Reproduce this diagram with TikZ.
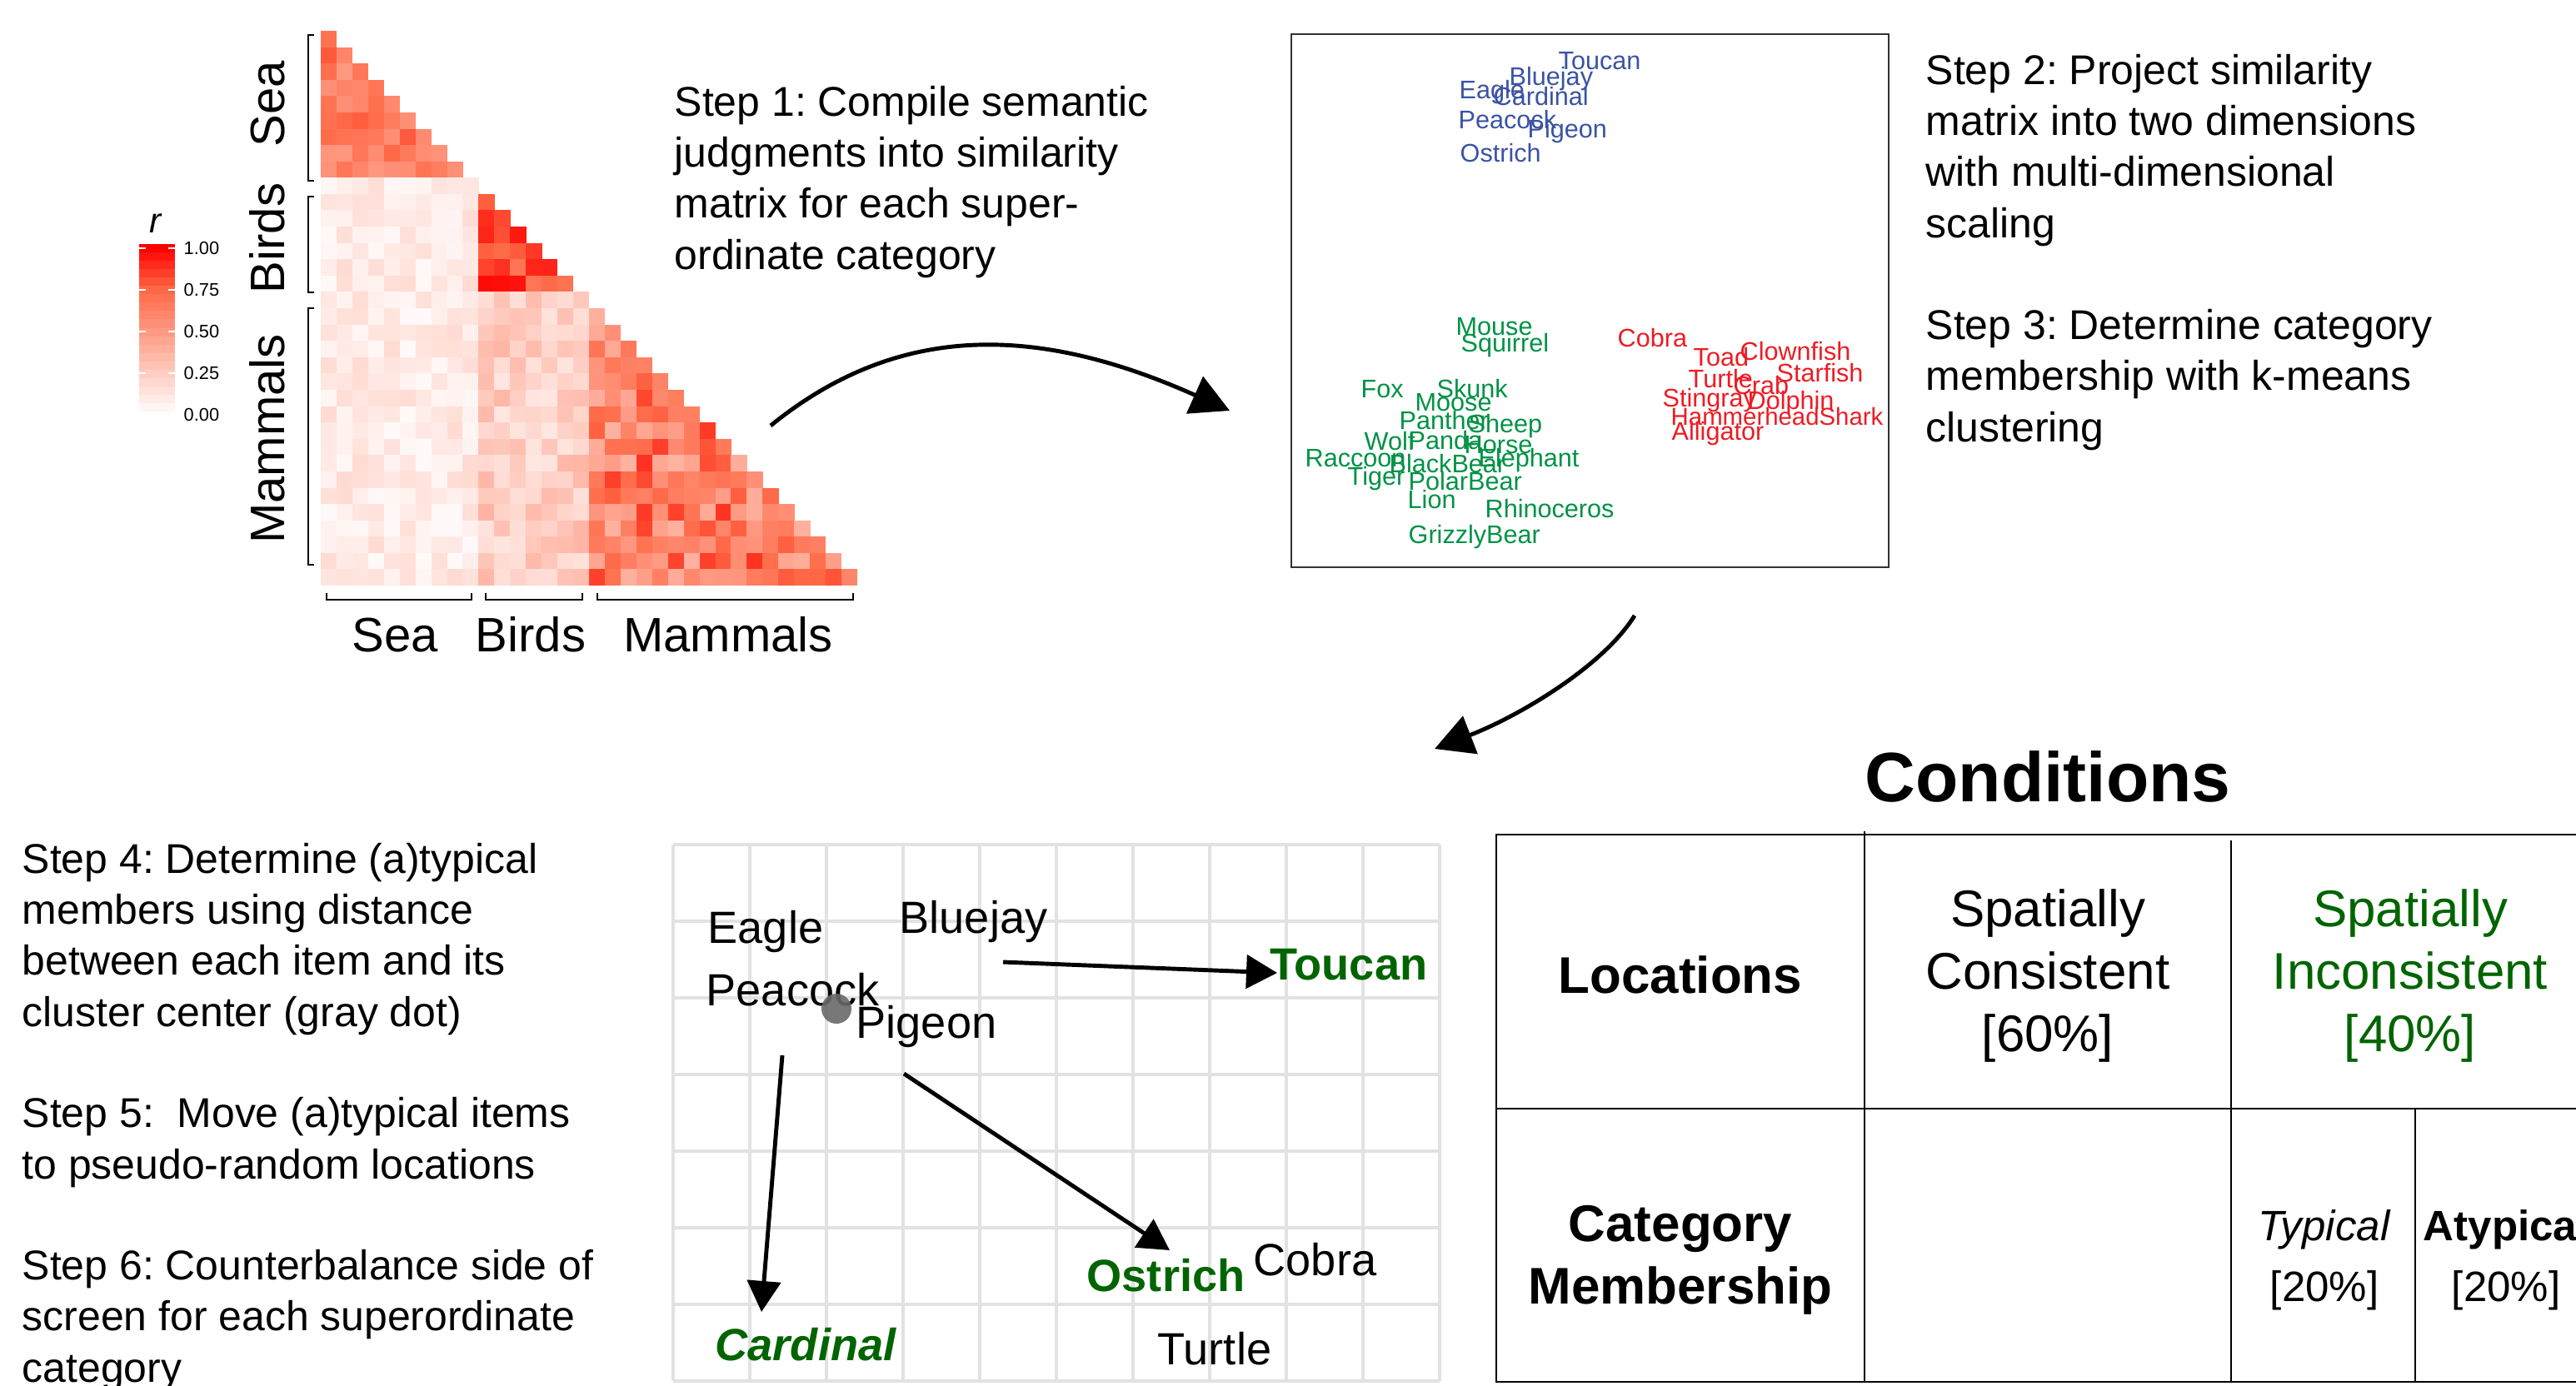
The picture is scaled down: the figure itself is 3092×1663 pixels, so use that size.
\documentclass[tikz,border=0pt]{standalone}
\usepackage{fontspec}
\setmainfont{Liberation Sans}
\usetikzlibrary{arrows.meta}
\frenchspacing

\definecolor{mdsblue}{RGB}{58,83,164}
\definecolor{mdsgreen}{RGB}{0,146,69}
\definecolor{mdsred}{RGB}{237,28,36}
\definecolor{movegreen}{RGB}{0,100,0}
\definecolor{gridgray}{RGB}{226,226,226}
\definecolor{dotgray}{RGB}{105,105,105}

\tikzset{
  steptext/.style={anchor=base west, inner sep=0pt, align=left, font=\fontsize{14.2}{17.4}\selectfont},
  axislbl/.style={anchor=base, inner sep=0pt, font=\fontsize{16.5}{19}\selectfont},
  keylbl/.style={anchor=west, inner sep=0pt, font=\fontsize{6.2}{7}\selectfont},
  mdsb/.style={anchor=base west, inner sep=0pt, text=mdsblue, font=\fontsize{8.7}{10}\selectfont},
  mdsg/.style={mdsb, text=mdsgreen},
  mdsr/.style={mdsb, text=mdsred},
  item/.style={anchor=base west, inner sep=0pt, font=\fontsize{15.4}{18}\selectfont},
  moved/.style={item, text=movegreen, font=\fontsize{15.4}{18}\selectfont\bfseries},
  bracket/.style={line width=0.65pt},
  bigarrow/.style={line width=1.4pt, -{Triangle[length=0.46cm, width=0.48cm]}},
  movearrow/.style={line width=1.4pt, -{Triangle[length=0.37cm, width=0.40cm]}},
  gridline/.style={draw=gridgray, line width=1.4pt},
  tableline/.style={line width=0.8pt},
  rowhead/.style={anchor=base, inner sep=0pt, align=center, font=\fontsize{17.6}{21.3}\selectfont\bfseries},
  cellhead/.style={anchor=base, inner sep=0pt, align=center, font=\fontsize{17.6}{21.3}\selectfont},
  cellsmall/.style={anchor=base, inner sep=0pt, align=center, font=\fontsize{14.5}{20.6}\selectfont}
}

\begin{document}
\begin{tikzpicture}[x=0.01cm, y=-0.01cm]
  \useasboundingbox (0,0) rectangle (3092,1663);

  % similarity matrix (lower triangle)
  \pgfmathsetseed{11}
  \foreach \i in {1,...,34}{
    \pgfmathtruncatemacro\jmax{\i-1}
    \pgfmathtruncatemacro\bi{(\i>9)+(\i>16)}
    \foreach \j in {0,...,\jmax}{
      \pgfmathtruncatemacro\bj{(\j>9)+(\j>16)}
      \pgfmathtruncatemacro\bsum{\bi+\bj}
      \ifnum\bi=\bj
        \ifcase\bi \def\lo{0.5}\def\rg{0.3}\or \def\lo{0.68}\def\rg{0.3}\or \def\lo{0.38}\def\rg{0.5}\fi
      \else
        \ifcase\bsum \or \def\lo{0.03}\def\rg{0.15}\or \def\lo{0.02}\def\rg{0.16}\or \def\lo{0.12}\def\rg{0.25}\fi
      \fi
      \pgfmathsetmacro\val{\lo+\rg*rnd}
      \pgfmathtruncatemacro\gch{\val<0.75 ? 255-201*\val : 416*(1-\val)}
      \pgfmathtruncatemacro\bch{\val<0.75 ? 255-247*\val : 280*(1-\val)}
      \definecolor{cellc}{RGB}{255,\gch,\bch}
      \fill[cellc] (385+\j*18.94,17.4+\i*19.59) rectangle ++(19.3,19.95);
    }
  }

  % colour key
  \foreach \k in {0,...,19}{
    \pgfmathsetmacro\val{1-0.05025*\k}
    \pgfmathtruncatemacro\gch{\val<0.75 ? 255-201*\val : 416*(1-\val)}
    \pgfmathtruncatemacro\bch{\val<0.75 ? 255-247*\val : 280*(1-\val)}
    \definecolor{cellc}{RGB}{255,\gch,\bch}
    \fill[cellc] (167,293+\k*10.05) rectangle ++(43,10.4);
  }
  \foreach \y in {298,348,398,448}
    \draw[white, line width=0.3pt] (167,\y) -- (175,\y) (202,\y) -- (210,\y);
  \node[anchor=base, inner sep=0pt, font=\fontsize{12}{14}\selectfont\itshape] (rkey) at (187,279) {r};
  \foreach \t/\lab in {0/0.00, 1/0.25, 2/0.50, 3/0.75, 4/1.00}
    \node[keylbl] (k\t) at (220,498-\t*50) {\lab};

  % brackets and axis labels
  \foreach \a/\b in {42/217, 236/351, 370/678}
    \draw[bracket] (377,\a) -- (370,\a) -- (370,\b) -- (377,\b);
  \foreach \a/\b in {392/566, 583/699, 717/1024}
    \draw[bracket] (\a,712) -- (\a,720) -- (\b,720) -- (\b,712);
  \node[axislbl, rotate=90] (ysea) at (341,125) {Sea};
  \node[axislbl, rotate=90] (ybird) at (341,286) {Birds};
  \node[axislbl, rotate=90] (ymam) at (341,527) {Mammals};
  \node[axislbl] (xsea) at (474,782) {Sea};
  \node[axislbl] (xbird) at (637,782) {Birds};
  \node[axislbl] (xmam) at (874,782) {Mammals};

  % steps (placed at the baseline of their last line)
  \node[steptext] (s1) at (809,323) {Step 1: Compile semantic\\judgments into similarity\\matrix for each super-\\ordinate category};
  \node[steptext] (s2) at (2311,285) {Step 2: Project similarity\\matrix into two dimensions\\with multi-dimensional\\scaling};
  \node[steptext] (s3) at (2311,530) {Step 3: Determine category\\membership with k-means\\clustering};
  \node[steptext] (s4) at (26,1232) {Step 4: Determine (a)typical\\members using distance\\between each item and its\\cluster center (gray dot)};
  \node[steptext] (s5) at (26,1415) {Step 5:~ Move (a)typical items\\to pseudo-random locations};
  \node[steptext] (s6) at (26,1659) {Step 6: Counterbalance side of\\screen for each superordinate\\category};

  % MDS plot
  \draw[draw=black!80, line width=0.6pt] (1550,41) rectangle (2267,681);
  \node[mdsb] (mtou) at (1870,83) {Toucan};
  \node[mdsb] (mblu) at (1811,102) {Bluejay};
  \node[mdsb] (meag) at (1751,118) {Eagle};
  \node[mdsb] (mcar) at (1792,126) {Cardinal};
  \node[mdsb] (mpea) at (1750,154) {Peacock};
  \node[mdsb] (mpig) at (1833,165) {Pigeon};
  \node[mdsb] (most) at (1752,194) {Ostrich};
  \node[mdsg] (mmou) at (1747,402) {Mouse};
  \node[mdsg] (msqu) at (1753,422) {Squirrel};
  \node[mdsg] (mfox) at (1633,477) {Fox};
  \node[mdsg] (msku) at (1724,477) {Skunk};
  \node[mdsg] (mmoo) at (1698,493) {Moose};
  \node[mdsg] (mpan) at (1679,515) {Panther};
  \node[mdsg] (mshe) at (1762,519) {Sheep};
  \node[mdsg] (mwol) at (1637,540) {Wolf};
  \node[mdsg] (mpnd) at (1690,539) {Panda};
  \node[mdsg] (mhor) at (1757,544) {Horse};
  \node[mdsg] (mrac) at (1566,560) {Raccoon};
  \node[mdsg] (mbla) at (1667,567) {BlackBear};
  \node[mdsg] (mele) at (1774,560) {Elephant};
  \node[mdsg] (mtig) at (1617,582) {Tiger};
  \node[mdsg] (mpol) at (1690,588) {PolarBear};
  \node[mdsg] (mlio) at (1689,610) {Lion};
  \node[mdsg] (mrhi) at (1782,621) {Rhinoceros};
  \node[mdsg] (mgri) at (1690,652) {GrizzlyBear};
  \node[mdsr] (mcob) at (1941,416) {Cobra};
  \node[mdsr] (mtoa) at (2032,439) {Toad};
  \node[mdsr] (mclo) at (2088,432) {Clownfish};
  \node[mdsr] (mtur) at (2026,465) {Turtle};
  \node[mdsr] (msta) at (2132,458) {Starfish};
  \node[mdsr] (mcra) at (2080,473) {Crab};
  \node[mdsr] (msti) at (1995,488) {Stingray};
  \node[mdsr] (mdol) at (2097,491) {Dolphin};
  \node[mdsr, font=\fontsize{8.35}{10}\selectfont] (mham) at (2005,510) {HammerheadShark};
  \node[mdsr] (mall) at (2006,528) {Alligator};

  % curved arrows between panels
  \coordinate (a1s) at (925,511);
  \coordinate (a1e) at (1476,493);
  \draw[bigarrow] (a1s) .. controls (1080,385) and (1248,391) .. (a1e);
  \coordinate (a2s) at (1962,739);
  \coordinate (a2e) at (1722,899);
  \draw[bigarrow] (a2s) .. controls (1925,799) and (1825,859) .. (a2e);

  % screen grid
  \foreach \c in {0,...,10}
    \draw[gridline] (808+\c*92,1014) -- (808+\c*92,1658);
  \foreach \r in {0,...,7}
    \draw[gridline] (808,1014+\r*92) -- (1728,1014+\r*92);

  \node[item] (eag) at (849,1132) {Eagle};
  \node[item] (blu) at (1079,1120) {Bluejay};
  \node[item] (pea) at (847,1207) {Peacock};
  \node[item] (pig) at (1027,1246) {Pigeon};
  \node[item] (cob) at (1504,1531) {Cobra};
  \node[item] (tur) at (1389,1638) {Turtle};
  \node[moved] (tou) at (1524,1176) {Toucan};
  \node[moved] (ost) at (1304,1550) {Ostrich};
  \node[moved, font=\fontsize{15.4}{18}\selectfont\bfseries\itshape] (car) at (858,1633) {Cardinal};
  \fill[dotgray, opacity=0.9] (1004,1211) circle (18);

  \coordinate (tou0) at (1204,1155);
  \coordinate (tou1) at (1533,1168);
  \coordinate (car0) at (939,1267);
  \coordinate (car1) at (914,1575);
  \coordinate (ost0) at (1085,1289);
  \coordinate (ost1) at (1404,1501);
  \draw[movearrow] (tou0) -- (tou1);
  \draw[movearrow] (car0) -- (car1);
  \draw[movearrow] (ost0) -- (ost1);

  % conditions table
  \node[anchor=base, inner sep=0pt, font=\fontsize{23.9}{28}\selectfont\bfseries] (cond) at (2458,962) {Conditions};
  \draw[tableline] (3120,1002) -- (1796,1002) -- (1796,1659) -- (3120,1659);
  \draw[tableline] (1796,1331) -- (3120,1331);
  \draw[tableline] (2238,998) -- (2238,1659);
  \draw[tableline] (2678,1009) -- (2678,1659);
  \draw[tableline] (2899,1331) -- (2899,1659);
  \node[rowhead] (loc) at (2017,1192) {Locations};
  \node[rowhead] (catm) at (2017,1565) {Category\\Membership};
  \node[cellhead] (cons) at (2458,1262) {Spatially\\Consistent\\{[60\%]}};
  \node[cellhead, text=movegreen] (incons) at (2893,1262) {Spatially\\Inconsistent\\{[40\%]}};
  \node[cellsmall] (typ) at (2790,1562) {\textit{Typical}\\{[20\%]}};
  \node[cellsmall] (atyp) at (3008,1562) {\textbf{Atypical}\\{[20\%]}};
\end{tikzpicture}
\end{document}
